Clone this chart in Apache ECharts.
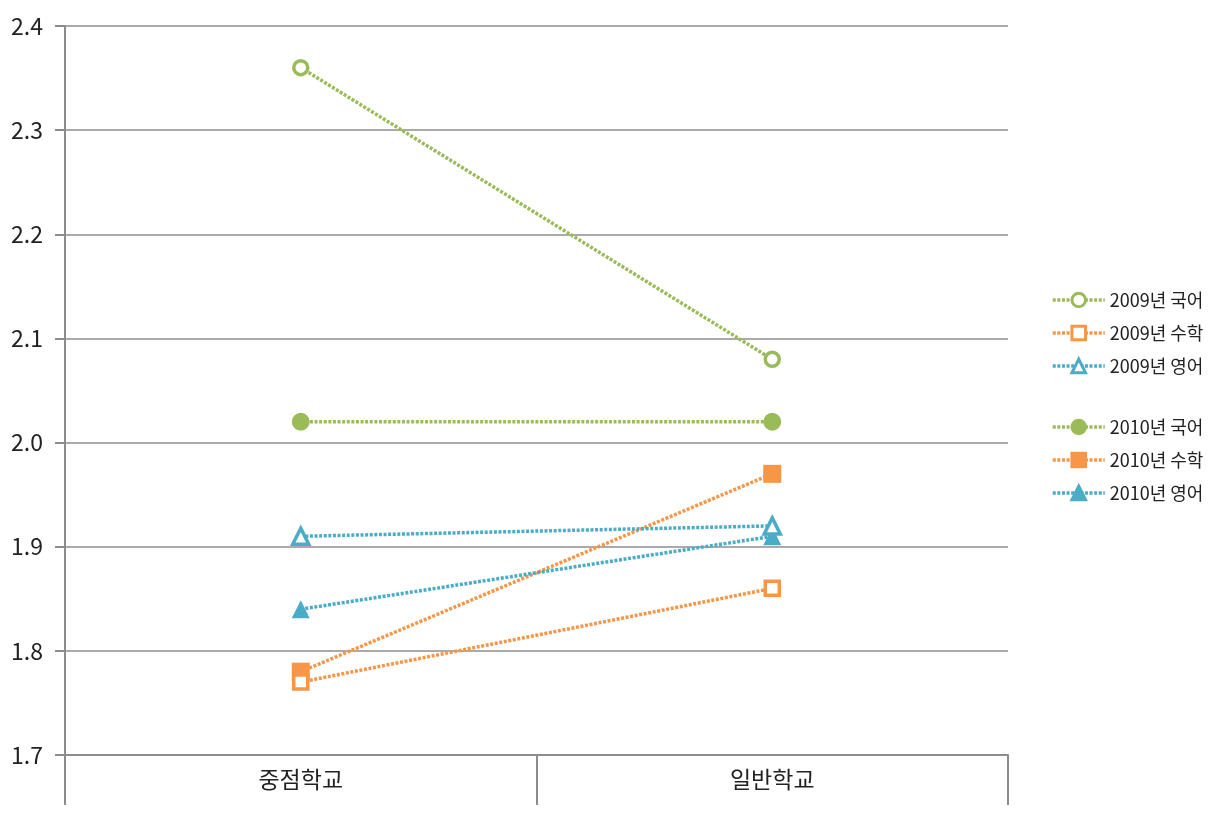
<!DOCTYPE html>
<html><head><meta charset="utf-8">
<script src="https://cdn.jsdelivr.net/npm/echarts@6/dist/echarts.min.js"></script>
<style>html,body{margin:0;padding:0;background:#fff}#c{width:1219px;height:817px}</style>
</head><body><div id="c"></div>
<script>
const categories = ['중점학교', '일반학교'];
const yTicks = [1.7, 1.8, 1.9, 2.0, 2.1, 2.2, 2.3, 2.4];
const kor2009 = [2.36, 2.08];
const math2009 = [1.77, 1.86];
const eng2009 = [1.91, 1.92];
const kor2010 = [2.02, 2.02];
const math2010 = [1.78, 1.97];
const eng2010 = [1.84, 1.91];

const GREEN = '#9BBB59', ORANGE = '#F79646', TEAL = '#4BACC6';
const FONT = '"Noto Sans CJK KR", "Noto Sans", sans-serif';

function mk(name, data, color, symbol, hollow, size) {
  return {
    name, type: 'line', data, symbol, symbolSize: size,
    showAllSymbol: true,
    lineStyle: { color, width: 3.5, type: [3, 1.6] },
    itemStyle: hollow ? { color: '#fff', borderColor: color, borderWidth: 3.5 } : { color, borderColor: color, borderWidth: 0 },
    emphasis: { disabled: true },
    z: hollow ? 3 : 2
  };
}

const legendBase = {
  orient: 'vertical', left: 1046, itemWidth: 52, itemHeight: 17, itemGap: 15,
  textStyle: { fontSize: 18, color: '#222', fontFamily: FONT },
  lineStyle: { width: 3.5, type: [3, 1.6] },
  itemStyle: { borderWidth: 3 }
};

const chart = echarts.init(document.getElementById('c'));
chart.setOption({
  animation: false,
  grid: { left: 65, right: 211, top: 26, bottom: 62 },
  xAxis: {
    type: 'category', data: categories, boundaryGap: true,
    axisLine: { show: true, lineStyle: { color: '#8c8c8c', width: 2 } },
    axisTick: { show: true, length: 50, alignWithLabel: false, lineStyle: { color: '#8c8c8c', width: 2 } },
    axisLabel: { fontSize: 23, color: '#222', margin: 13, fontFamily: FONT },
    splitLine: { show: false }
  },
  yAxis: {
    type: 'value', min: yTicks[0], max: yTicks[yTicks.length - 1], interval: 0.1,
    axisLine: { show: true, lineStyle: { color: '#8c8c8c', width: 2 } },
    axisTick: { show: true, length: 10, inside: false, lineStyle: { color: '#8c8c8c', width: 2 } },
    axisLabel: { fontSize: 23, color: '#222', margin: 22, fontFamily: FONT, formatter: v => v.toFixed(1) },
    splitLine: { show: true, lineStyle: { color: '#aaaaaa', width: 2 } }
  },
  legend: [
    Object.assign({}, legendBase, { top: 286, data: ['2009년 국어', '2009년 수학', '2009년 영어'] }),
    Object.assign({}, legendBase, { top: 413, data: ['2010년 국어', '2010년 수학', '2010년 영어'] })
  ],
  series: [
    mk('2009년 국어', kor2009, GREEN, 'circle', true, 14),
    mk('2009년 수학', math2009, ORANGE, 'rect', true, 14),
    mk('2009년 영어', eng2009, TEAL, 'triangle', true, 16),
    mk('2010년 국어', kor2010, GREEN, 'circle', false, 18),
    mk('2010년 수학', math2010, ORANGE, 'rect', false, 18),
    mk('2010년 영어', eng2010, TEAL, 'triangle', false, 18)
  ]
});
</script></body></html>
